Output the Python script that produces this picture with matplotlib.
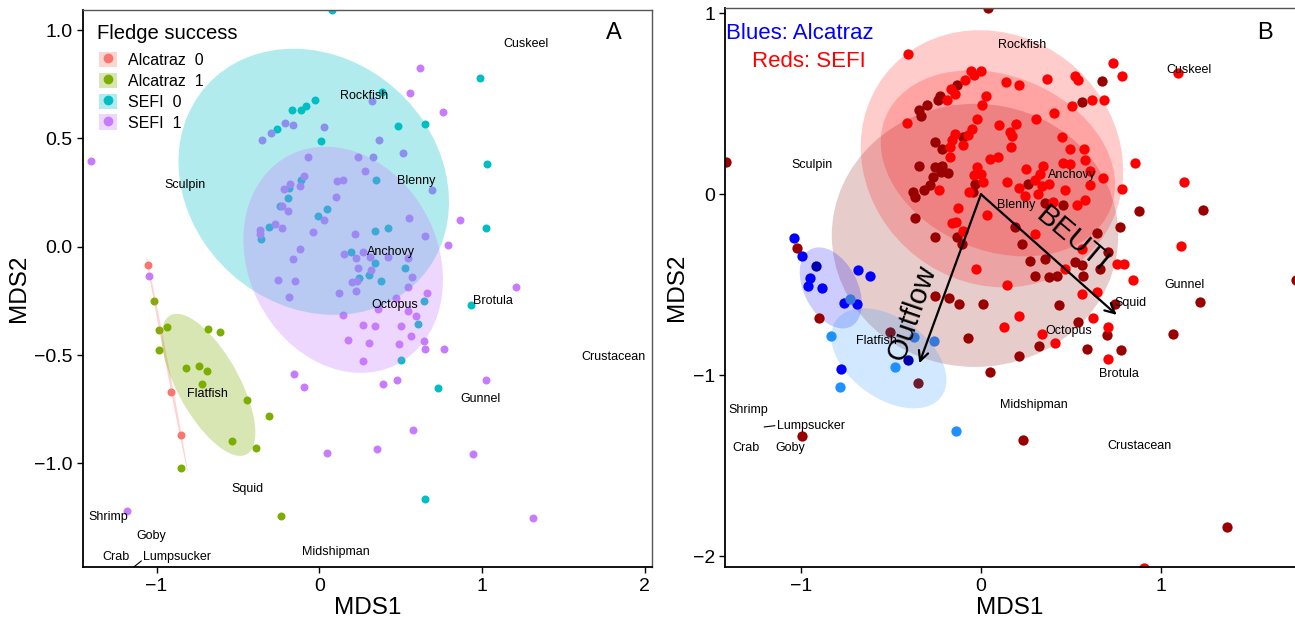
import numpy as np
import matplotlib
matplotlib.use("Agg")
import matplotlib.pyplot as plt
from matplotlib.patches import Ellipse, Patch
from matplotlib.lines import Line2D

plt.rcParams['font.family'] = ['Liberation Sans', 'DejaVu Sans']

# ---------------- Panel A data ----------------
alc0_x = [-1.055, -0.910, -0.847]
alc0_y = [-0.086, -0.670, -0.870]

alc1_x = [-1.014, -0.982, -0.934, -0.982, -0.681, -0.613, -0.822, -0.738, -0.691, -0.718,
          -0.444, -0.311, -0.538, -0.391, -0.847, -0.235]
alc1_y = [-0.248, -0.383, -0.370, -0.474, -0.380, -0.394, -0.560, -0.550, -0.573, -0.634,
          -0.708, -0.781, -0.898, -0.928, -1.019, -1.242]

sefi0_x = [-0.260, -0.166, -0.112, -0.082, -0.029, 0.010, -0.112, -0.186, -0.192, -0.243,
           -0.006, 0.045, -0.307, -0.358, 0.078, 0.990, 0.385, 0.481, 0.648, 0.346,
           1.031, 0.342, 0.425, 1.023, 0.198, 0.344, 0.530, 0.303, 0.245, 0.380,
           0.644, 0.934, 0.607, 0.503, 0.732, 0.652]
sefi0_y = [0.545, 0.633, 0.633, 0.648, 0.676, 0.490, 0.309, 0.271, 0.225, 0.189,
           0.143, 0.175, 0.092, 0.034, 1.092, 0.777, 0.716, 0.556, 0.568, 0.309,
           0.380, 0.072, 0.089, 0.088, -0.026, -0.074, -0.100, -0.129, -0.143, -0.157,
           -0.249, -0.269, -0.357, -0.524, -0.651, -1.165]

sefi1_x = [-1.403, -1.045, -0.352, -0.296, -0.213, -0.161, 0.029, -0.072, -0.092, -0.121,
           -0.182, -0.219, -0.229, -0.194, 0.029, -0.039, -0.270, -0.231, -0.362, -0.366,
           -0.121, -0.160, -0.253, -0.149, -0.186, 0.622, 0.323, 0.556, 0.761, 0.370,
           0.237, 0.333, 0.513, 0.280, 0.112, 0.147, 0.695, 0.102, 0.550, 0.863,
           0.219, 0.650, 0.789, 0.155, 0.266, 0.223, 0.311, 0.425, 0.544, 0.241,
           0.315, 0.569, 0.200, 0.235, 0.548, 0.121, 0.223, 0.661, 0.472, 1.211,
           0.362, 0.548, 0.595, 0.147, 0.268, 0.344, 0.503, 0.178, 0.303, 0.489,
           0.562, 0.642, 0.648, 0.765, 0.268, -0.092, 0.393, 0.476, 1.025, 0.577,
           0.047, 0.354, 0.945, 1.315, -1.184, -0.158]
sefi1_y = [0.396, -0.135, 0.491, 0.523, 0.573, 0.560, 0.554, 0.416, 0.328, 0.279,
           0.292, 0.268, 0.189, 0.165, 0.122, 0.068, 0.105, 0.085, 0.079, 0.059,
           -0.012, -0.058, -0.152, -0.156, -0.232, 0.827, 0.671, 0.711, 0.620, 0.494,
           0.414, 0.413, 0.431, 0.351, 0.303, 0.309, 0.263, 0.232, 0.132, 0.125,
           0.057, 0.049, 0.008, -0.032, -0.023, -0.052, -0.048, -0.046, -0.051, -0.099,
           -0.105, -0.140, -0.163, -0.156, -0.186, -0.214, -0.202, -0.211, -0.234, -0.186,
           -0.285, -0.294, -0.319, -0.313, -0.359, -0.366, -0.366, -0.431, -0.442, -0.450,
           -0.411, -0.436, -0.473, -0.473, -0.525, -0.645, -0.634, -0.613, -0.613, -0.844,
           -0.950, -0.935, -0.955, -1.253, -1.219, -0.587]

groups_a = ["Alcatraz  0", "Alcatraz  1", "SEFI  0", "SEFI  1"]
colors_a = ["#F8766D", "#7CAE00", "#00BFC4", "#C77CFF"]

# ellipses (group order as above): centre, width, height, angle (data units)
ell_a_cx = [-0.936, -0.681, -0.034, 0.147]
ell_a_cy = [-0.540, -0.637, 0.300, -0.060]
ell_a_w = [1.02, 0.801, 1.684, 1.267]
ell_a_h = [0.016, 0.348, 1.199, 0.995]
ell_a_ang = [-75.6, -50.4, -13.0, -23.7]

species_a = ["Cuskeel", "Rockfish", "Sculpin", "Blenny", "Anchovy", "Octopus", "Brotula",
             "Crustacean", "Gunnel", "Flatfish", "Squid", "Midshipman", "Shrimp", "Goby",
             "Crab", "Lumpsucker"]
species_a_x = [1.270, 0.278, -0.822, 0.593, 0.442, 0.464, 1.066, 1.808, 0.992, -0.685,
               -0.444, 0.104, -1.299, -1.033, -1.250, -0.873]
species_a_y = [0.938, 0.697, 0.283, 0.302, -0.022, -0.268, -0.251, -0.510, -0.704, -0.681,
               -1.116, -1.410, -1.249, -1.334, -1.433, -1.433]
seg_a_x = [-1.139, -1.094]
seg_a_y = [-1.477, -1.450]

# ---------------- Panel B data ----------------
b_red_x = [-0.402, -0.413, -0.163, -0.139, -0.100, -0.126, -0.028, -0.057, -0.037, -0.087,
           -0.167, -0.144, -0.191, -0.024, -0.052, -0.070, -0.144, -0.163, -0.172, -0.098,
           -0.172, -0.232, -0.024, -0.039, -0.065, 0.000, 0.139, 0.211, 0.369, 0.522,
           0.541, 0.735, 0.783, 0.026, 0.007, 0.406, 0.504, 0.615, 0.685, 0.100,
           0.194, 0.161, 0.170, 0.307, 0.165, 0.452, 0.494, 0.572, 0.050, 0.096,
           0.000, 0.578, 0.457, 0.494, 0.250, 0.346, 0.328, 0.143, 0.213, 0.300,
           0.337, 0.378, 0.606, 0.679, 0.606, 0.781, 0.852, 0.467, 0.244, 0.319,
           0.402, 0.578, 0.532, 1.124, 1.111, 1.091, 0.846, 0.754, 0.794, 0.031,
           0.300, 0.143, 0.467, 0.559, 0.643, 0.213, 0.130, 0.337, 0.411, 0.619,
           0.704, 0.704, 0.902, 0.559, 0.013]
b_red_y = [0.772, 0.396, -0.158, -0.153, -0.203, -0.074, -0.414, 0.681, 0.657, 0.630,
           0.584, 0.556, 0.519, 0.413, 0.363, 0.326, 0.335, 0.298, 0.261, 0.271,
           0.206, 0.022, 0.151, 0.105, 0.013, 0.681, 0.621, 0.602, 0.635, 0.654,
           0.630, 0.727, 0.654, 0.541, 0.492, 0.451, 0.486, 0.519, 0.519, 0.385,
           0.387, 0.344, 0.320, 0.413, 0.261, 0.317, 0.249, 0.249, 0.197, 0.206,
           0.114, 0.188, 0.175, 0.166, 0.138, 0.156, 0.114, 0.068, 0.035, 0.077,
           0.044, 0.059, 0.129, 0.092, 0.050, 0.028, 0.173, 0.022, -0.011, 0.004,
           -0.042, -0.033, -0.061, 0.068, -0.287, 0.670, -0.471, -0.383, -0.383, -0.116,
           -0.217, -0.499, -0.411, -0.552, -0.540, -0.674, -0.733, -0.770, -0.821, -0.681,
           -0.733, -0.908, -2.062, -0.300, 0.068]

b_dark_x = [-1.021, -0.896, -0.994, -1.413, -0.254, -0.178, -0.122, -0.074, -0.365, -0.254,
            -0.131, -0.107, -0.135, -0.228, -0.237, -0.298, -0.343, -0.335, -0.098, -0.256,
            -0.218, -0.346, -0.256, -0.218, -0.224, -0.185, -0.265, -0.283, -0.317, -0.376,
            -0.367, -0.033, -0.043, 0.672, 0.559, 0.263, 0.356, 0.457, 1.230, 0.874,
            0.772, 1.217, 1.750, 0.189, 0.226, 0.272, 0.356, 0.300, 0.378, 0.420,
            0.013, 0.433, 0.522, 0.563, 0.565, 0.661, 0.646, 0.704, 0.322, 0.209,
            0.050, 0.541, 0.698, 0.589, 0.776, 0.744, 1.065, 0.235, 1.365, 0.039]
b_dark_y = [-0.297, -0.683, -1.335, 0.178, -0.560, -0.575, -0.608, -0.794, -0.129, -0.236,
            -0.236, -0.273, 0.602, 0.541, 0.523, 0.492, 0.464, 0.433, 0.317, 0.289,
            0.252, 0.155, 0.151, 0.156, 0.123, 0.118, 0.096, 0.052, 0.026, 0.013,
            -0.015, 0.059, 0.013, 0.628, 0.510, 0.059, -0.048, -0.061, -0.088, -0.094,
            -0.181, -0.595, -0.475, -0.181, -0.273, -0.370, -0.355, -0.453, -0.457, -0.453,
            -0.608, -0.610, -0.374, -0.392, -0.453, -0.411, -0.212, -0.319, -0.838, -0.895,
            -0.982, -0.705, -0.779, -0.853, -0.862, -0.604, -0.770, -1.355, -1.838, 1.028]

b_maroon_x = [-0.506, -0.348]
b_maroon_y = [-0.761, -1.040]

b_blue_x = [-1.039, -0.994, -0.946, -0.961, -0.880, -0.683, -0.615, -0.759, -0.685, -0.774]
b_blue_y = [-0.241, -0.343, -0.464, -0.508, -0.516, -0.420, -0.453, -0.602, -0.606, -0.963]
b_navy_x = [-0.917, -0.407]
b_navy_y = [-0.398, -0.913]
b_mid_x = [-0.728, -0.372, -0.259]
b_mid_y = [-0.576, -0.788, -0.812]
b_light_x = [-0.830, -0.478, -0.782, -0.141]
b_light_y = [-0.785, -0.954, -1.064, -1.306]

ell_b_cx = [-0.033, 0.061, 0.094, -0.833, -0.511]
ell_b_cy = [-0.227, 0.196, 0.171, -0.517, -0.906]
ell_b_w = [1.589, 1.506, 1.347, 0.481, 0.720]
ell_b_h = [1.453, 1.367, 0.965, 0.296, 0.442]
ell_b_ang = [0.0, -37.6, -22.0, -62.35, -35.7]
ell_b_col = ["#8B0000", "#FF0000", "#FF0000", "#0000FF", "#1E90FF"]

species_b = ["Rockfish", "Cuskeel", "Anchovy", "Blenny", "Gunnel", "Squid", "Sculpin",
             "Flatfish", "Shrimp", "Lumpsucker", "Crab", "Goby", "Octopus", "Brotula",
             "Midshipman", "Crustacean"]
species_b_x = [0.226, 1.152, 0.504, 0.198, 1.128, 0.828, -0.935, -0.580, -1.293, -0.941,
               -1.302, -1.057, 0.485, 0.763, 0.291, 0.878]
species_b_y = [0.827, 0.685, 0.109, -0.057, -0.503, -0.600, 0.160, -0.812, -1.193, -1.278,
               -1.403, -1.403, -0.755, -0.993, -1.164, -1.390]
seg_b_x = [-1.202, -1.144]
seg_b_y = [-1.285, -1.278]

vec_names = ["BEUTI", "Outflow"]
vec_x = [0.753, -0.342]
vec_y = [-0.666, -0.933]

# ---------------- Figure ----------------
fig = plt.figure(figsize=(12.95, 6.29), dpi=100)
axA = fig.add_axes([0.0643, 0.0981, 0.4389, 0.886])
axB = fig.add_axes([0.5601, 0.0981, 0.4399, 0.8887])


def style_axes(ax):
    for s in ["left", "bottom"]:
        ax.spines[s].set_color("black")
        ax.spines[s].set_linewidth(1.3)
    for s in ["top", "right"]:
        ax.spines[s].set_color("#555555")
        ax.spines[s].set_linewidth(1.0)
    ax.tick_params(direction="out", length=4, width=1.0, labelsize=14, colors="black")
    ax.set_xlabel("MDS1", fontsize=17.5, labelpad=2)
    ax.set_ylabel("MDS2", fontsize=17.5, labelpad=3)


# ---- Panel A ----
xs_a = [alc0_x, alc1_x, sefi0_x, sefi1_x]
ys_a = [alc0_y, alc1_y, sefi0_y, sefi1_y]
for x, y, c in zip(xs_a, ys_a, colors_a):
    axA.scatter(x, y, s=33, color=c, linewidths=0, zorder=2)
for i, c in enumerate(colors_a):
    axA.add_patch(Ellipse((ell_a_cx[i], ell_a_cy[i]), ell_a_w[i], ell_a_h[i],
                          angle=ell_a_ang[i], facecolor=c, alpha=0.3,
                          edgecolor="none", zorder=3))
for name, x, y in zip(species_a, species_a_x, species_a_y):
    axA.text(x, y, name, fontsize=9, ha="center", va="center", zorder=5)
axA.plot(seg_a_x, seg_a_y, color="black", lw=0.8, zorder=5)
axA.text(1.81, 0.985, "A", fontsize=17, ha="center", va="center")

axA.set_xlim(-1.4505, 2.043)
axA.set_ylim(-1.479, 1.0928)
axA.set_xticks([-1, 0, 1, 2])
axA.set_yticks([-1.0, -0.5, 0.0, 0.5, 1.0])
axA.set_yticklabels(["\u22121.0", "\u22120.5", "0.0", "0.5", "1.0"])
axA.set_xticklabels(["\u22121", "0", "1", "2"])
style_axes(axA)

axA.text(0.0241, 0.957, "Fledge success", fontsize=14.6, ha="left", va="center",
         transform=axA.transAxes)
handles = []
for c in colors_a:
    handles.append((Patch(facecolor=c, alpha=0.3, edgecolor="none"),
                    Line2D([], [], marker="o", color=c, linestyle="none", markersize=6)))
leg = axA.legend(handles, groups_a, loc="upper left",
                 bbox_to_anchor=(0.0276, 0.925), frameon=False, fontsize=11.5,
                 handlelength=1.1, handleheight=1.1,
                 handletextpad=0.7, labelspacing=0.3, borderpad=0, borderaxespad=0)

# ---- Panel B ----
for i, c in enumerate(ell_b_col):
    axB.add_patch(Ellipse((ell_b_cx[i], ell_b_cy[i]), ell_b_w[i], ell_b_h[i],
                          angle=ell_b_ang[i], facecolor=c, alpha=0.2,
                          edgecolor="none", zorder=1))
pts_b = [(b_dark_x, b_dark_y, "#990000"), (b_red_x, b_red_y, "#FF0000"),
         (b_maroon_x, b_maroon_y, "#6E1A2C"), (b_blue_x, b_blue_y, "#0000FF"),
         (b_navy_x, b_navy_y, "#0000B0"), (b_mid_x, b_mid_y, "#3878D8"),
         (b_light_x, b_light_y, "#1E90FF")]
for x, y, c in pts_b:
    axB.scatter(x, y, s=55, color=c, linewidths=0, zorder=2)

for name, x, y in zip(species_b, species_b_x, species_b_y):
    axB.text(x, y, name, fontsize=9, ha="center", va="center", zorder=5)
axB.plot(seg_b_x, seg_b_y, color="black", lw=0.8, zorder=5)

for vx, vy in zip(vec_x, vec_y):
    axB.annotate("", xy=(vx, vy), xytext=(0, 0),
                 arrowprops=dict(arrowstyle="->,head_length=0.7,head_width=0.35",
                                 color="black", lw=1.6, shrinkA=0, shrinkB=0),
                 zorder=6)
axB.text(0.507, -0.247, "BEUTI", fontsize=21, rotation=-40, ha="center", va="center",
         rotation_mode="anchor", zorder=6)
axB.text(-0.380, -0.655, "Outflow", fontsize=21, rotation=71, ha="center", va="center",
         rotation_mode="anchor", zorder=6)

axB.text(-1.006, 0.888, "Blues: Alcatraz", color="#0000FF", fontsize=16,
         ha="center", va="center")
axB.text(-0.956, 0.735, "Reds: SEFI", color="#FF0000", fontsize=16,
         ha="center", va="center")
axB.text(1.578, 0.890, "B", fontsize=17, ha="center", va="center")

axB.set_xlim(-1.418, 1.742)
axB.set_ylim(-2.060, 1.027)
axB.set_xticks([-1, 0, 1])
axB.set_yticks([-2, -1, 0, 1])
axB.set_xticklabels(["\u22121", "0", "1"])
axB.set_yticklabels(["\u22122", "\u22121", "0", "1"])
style_axes(axB)
axB.spines["right"].set_visible(False)

fig.savefig("out.png", dpi=100)
